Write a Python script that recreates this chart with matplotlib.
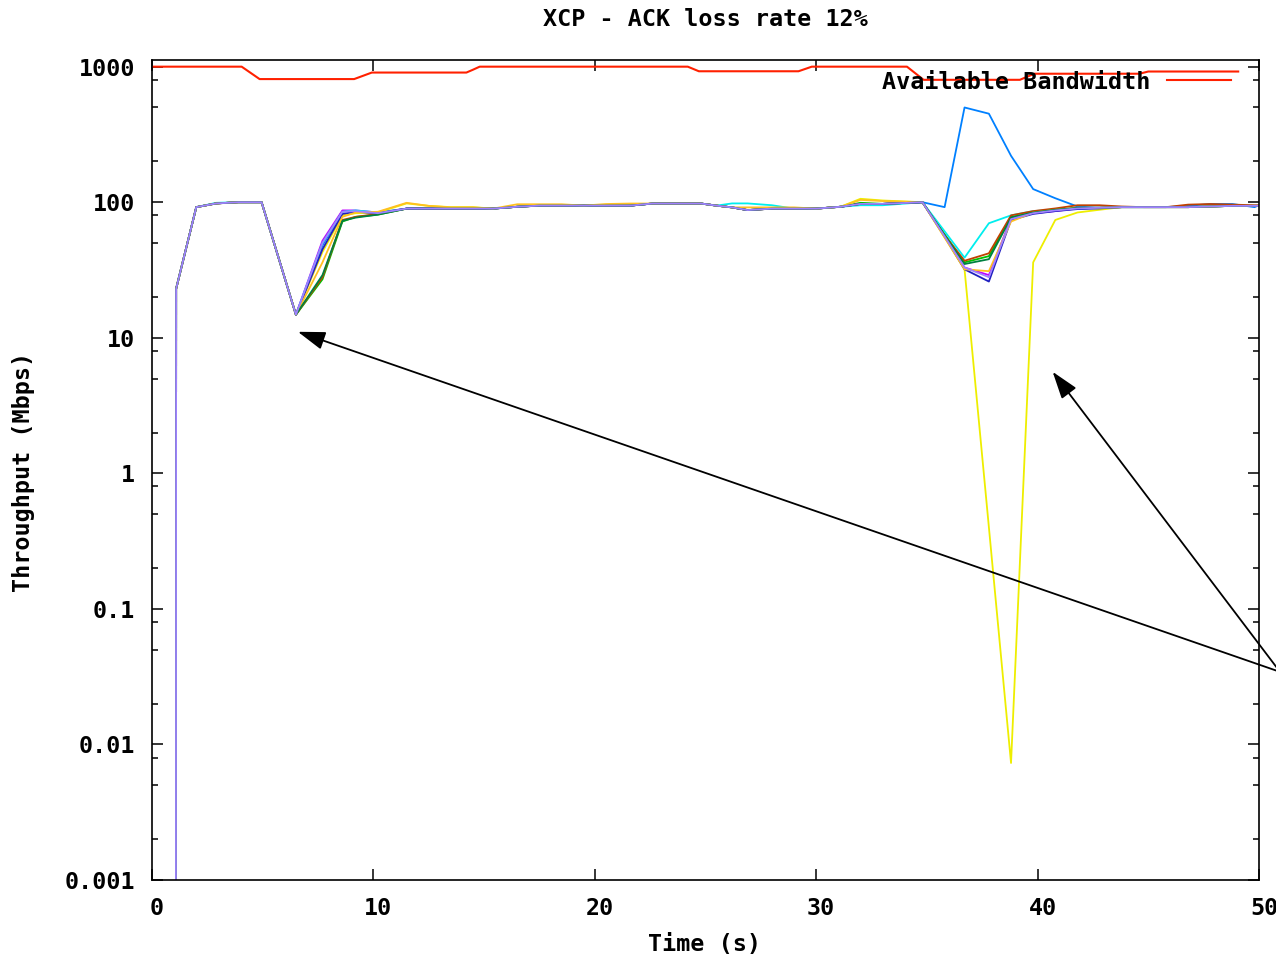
import numpy as np
import matplotlib.pyplot as plt
from matplotlib.ticker import FixedLocator, FixedFormatter, NullFormatter
from matplotlib.transforms import ScaledTranslation

plt.rcParams['font.family'] = ['DejaVu Sans Mono']
plt.rcParams['font.weight'] = 'bold'
plt.rcParams['font.size'] = 16.8

# available bandwidth (red line)
bw_t = [0.0, 4.05, 4.86, 9.13, 9.93, 14.2, 14.5, 14.8, 24.2, 24.7, 29.2, 29.8, 34.1, 34.85, 39.2, 39.85, 44.6, 45.0, 49.06]
bw_v = [1000, 1000, 810, 810, 905, 905, 950, 1000, 1000, 925, 925, 1000, 1000, 800, 800, 887, 887, 921, 921]

# sample times shared by the flows
t = [1.08, 1.09, 2.0, 2.9, 3.9, 4.95, 6.5, 7.7, 8.6, 9.2, 10.2,
     11.5, 12.5, 13.5, 14.5, 15.4, 16.5, 17.5, 18.5, 19.5, 20.5,
     21.6, 22.6, 23.7, 24.8, 25.5, 26.2, 26.9, 28.0, 29.0, 30.0,
     31.1, 32.0, 33.0, 34.8, 35.8, 36.7, 37.8, 38.8, 39.8, 40.8,
     41.8, 42.8, 43.8, 44.8, 45.8, 46.8, 47.8, 48.8, 49.8, 50.0]

# common throughput profile (Mbps)
base = [1e-4, 23, 92, 98, 100, 100, 14.8, 50, 85, 86, 83,
        89.7, 89.7, 89.7, 89.7, 89.7, 92.6, 94.4, 94.4, 94.4, 94.4,
        94.4, 97.8, 97.8, 97.8, 94.4, 91.6, 87.5, 89.7, 89.7, 89.7,
        92.6, 97.2, 97.2, 100, 56, 33, 28, 75, 83, 87,
        90, 91, 92, 92, 92, 92, 93, 94, 94, 94]

# per-flow deviations from the common profile, in gnuplot draw order
green = {7.7: 27, 8.6: 72, 9.2: 78, 10.2: 81, 32.0: 99, 35.8: 58, 36.7: 36,
         37.8: 40, 38.8: 78, 39.8: 84, 40.8: 88}
blue = {7.7: 48, 8.6: 86, 35.8: 92, 36.7: 500, 37.8: 450, 38.8: 220, 39.8: 125,
        40.8: 107, 41.8: 93, 46.8: 94, 47.8: 97, 48.8: 97, 49.8: 92, 50.0: 95}
magenta = {7.7: 52, 8.6: 87, 9.2: 87, 10.2: 84, 37.8: 29, 38.8: 76, 40.8: 86}
cyan = {2.9: 99, 7.7: 50, 9.2: 87, 10.2: 84, 26.2: 98, 26.9: 98, 28.0: 95,
        32.0: 95, 33.0: 95, 35.8: 61, 36.7: 39, 37.8: 70, 38.8: 80, 39.8: 86, 40.8: 88}
brown = {7.7: 28, 8.6: 74, 9.2: 78, 10.2: 82, 35.8: 57, 36.7: 37, 37.8: 42,
         38.8: 80, 39.8: 86, 40.8: 90, 41.8: 95, 42.8: 95, 43.8: 93, 46.8: 96,
         47.8: 97, 48.8: 96, 49.8: 95, 50.0: 95}
yellow = {7.7: 43, 8.6: 80, 9.2: 83, 10.2: 84, 11.5: 98, 12.5: 94, 13.5: 92,
          14.5: 92, 32.0: 106, 33.0: 103, 35.8: 55, 36.7: 32, 37.8: 0.4,
          38.8: 0.0073, 39.8: 36, 40.8: 74, 41.8: 84, 42.8: 88}
navy = {7.7: 45, 8.6: 82, 9.2: 85, 36.7: 32, 37.8: 26, 38.8: 74, 39.8: 82,
        40.8: 86, 41.8: 89, 42.8: 90}
gold = {7.7: 36, 8.6: 78, 9.2: 84, 10.2: 85, 11.5: 99, 12.5: 94, 13.5: 91.6,
        14.5: 91.6, 16.5: 96.6, 17.5: 96.6, 18.5: 96.6, 20.5: 97, 21.6: 97.8,
        26.9: 91.6, 28.0: 91.6, 29.0: 91.6, 32.0: 104, 33.0: 102, 35.8: 55,
        36.7: 32, 37.8: 31, 38.8: 72, 39.8: 84, 40.8: 88, 41.8: 91}
dkgreen = {7.7: 29, 8.6: 73, 9.2: 77, 10.2: 81, 35.8: 57, 36.7: 35, 37.8: 38,
           38.8: 77, 39.8: 84, 40.8: 88, 41.8: 91}
lavender = {}

flows = [('#00c000', green), ('#0080ff', blue), ('#c000ff', magenta),
         ('#00eeee', cyan), ('#c04000', brown), ('#eeee00', yellow),
         ('#2020c0', navy), ('#ffc020', gold), ('#008040', dkgreen),
         ('#a080ff', lavender)]

# arrows: (tail time, tail value) -> (tip time, tip value)
arrow_tail = (50.95, 0.0343)
arrow_tips = [(6.59, 11.07), (40.68, 5.61)]

fig = plt.figure(figsize=(12.76, 9.58), dpi=100)
ax = fig.add_axes([152 / 1276, 78 / 958, 1107 / 1276, 820 / 958])

ax.plot(bw_t, bw_v, color='#ff2000', lw=1.5, label='Available Bandwidth')
for col, dev in flows:
    y = [dev.get(tt, b) for tt, b in zip(t, base)]
    ax.plot(t, y, color=col, lw=1.3)

for tip in arrow_tips:
    ax.annotate('', xy=tip, xytext=arrow_tail, annotation_clip=False,
                arrowprops=dict(arrowstyle='-|>,head_length=0.6,head_width=0.2',
                                color='black', lw=1.3, mutation_scale=28,
                                shrinkA=0, shrinkB=0))

ax.set_yscale('log')
ax.set_xlim(0, 50)
ax.set_ylim(0.001, 1120)

ax.xaxis.set_major_locator(FixedLocator([0, 10, 20, 30, 40, 50]))
ax.xaxis.set_major_formatter(FixedFormatter(['0', '10', '20', '30', '40', '50']))
ax.yaxis.set_major_locator(FixedLocator([0.001, 0.01, 0.1, 1, 10, 100, 1000]))
ax.yaxis.set_major_formatter(FixedFormatter(['0.001', '0.01', '0.1', '1', '10', '100', '1000']))
minors = [m * 10.0 ** e for e in range(-3, 3) for m in (2, 5, 8)]
ax.yaxis.set_minor_locator(FixedLocator(minors))
ax.yaxis.set_minor_formatter(NullFormatter())
ax.xaxis.set_minor_locator(FixedLocator([]))

ax.tick_params(which='both', direction='in', top=True, right=True, width=1.1)
ax.tick_params(which='major', length=8)
ax.tick_params(which='minor', length=4.5)
ax.tick_params(axis='x', pad=12)
ax.tick_params(axis='y', pad=12)
for sp in ax.spines.values():
    sp.set_linewidth(1.2)

off = ScaledTranslation(5 / 100, 0, fig.dpi_scale_trans)
for lab in ax.get_xticklabels():
    lab.set_transform(lab.get_transform() + off)

ax.legend(loc='center right', bbox_to_anchor=(0.9747, 0.973), frameon=False,
          markerfirst=False, handlelength=2.75, handletextpad=0.7,
          borderpad=0, borderaxespad=0)

fig.text(705 / 1276, 1 - 20 / 958, 'XCP - ACK loss rate 12%', ha='center', va='center')
fig.text(705 / 1276, 1 - 945 / 958, 'Time (s)', ha='center', va='center')
fig.text(24 / 1276, 1 - 472 / 958, 'Throughput (Mbps)', ha='center', va='center', rotation=90)

fig.savefig('out.png', dpi=100)
